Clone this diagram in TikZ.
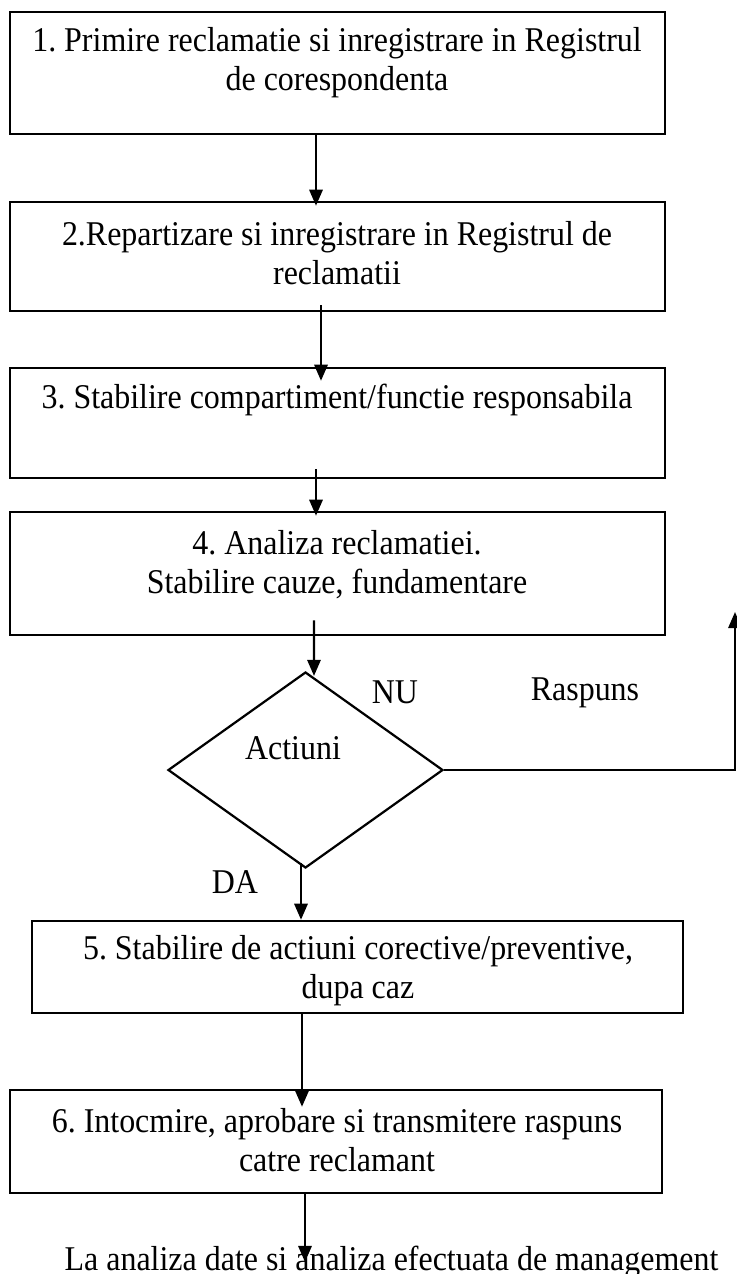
\documentclass[tikz,border=0pt]{standalone}
\usepackage{fontspec}
\setmainfont{Liberation Serif}[FakeStretch=0.92]
\usetikzlibrary{arrows.meta,shapes.geometric}
\frenchspacing

\begin{document}
\begin{tikzpicture}[
		x=0.36pt, y=-0.36pt,
		box/.style={draw, line width=0.9pt, inner sep=0pt},
		cond/.style={draw, diamond, line width=0.8pt, inner sep=0pt},
		txt/.style={align=center, inner sep=0pt, font=\fontsize{12.5}{14}\selectfont},
		flow/.style={line width=0.8pt, -{Triangle[width=4.8pt,length=5.8pt]}}
		]
		\useasboundingbox (0,0) rectangle (737,1274);
		
		% Draw boxes
		\node[box, minimum width=655*0.36pt, minimum height=122*0.36pt] (b1) at (337.5,73) {};
		\node[box, minimum width=655*0.36pt, minimum height=109*0.36pt] (b2) at (337.5,256.5) {};
		\node[box, minimum width=655*0.36pt, minimum height=110*0.36pt] (b3) at (337.5,423) {};
		\node[box, minimum width=655*0.36pt, minimum height=123*0.36pt] (b4) at (337.5,573.5) {};
		\node[cond, minimum width=275*0.36pt, minimum height=196*0.36pt] (d) at (305.5,770) {};
		\node[box, minimum width=651*0.36pt, minimum height=92*0.36pt] (b5) at (357.5,967) {};
		\node[box, minimum width=652*0.36pt, minimum height=103*0.36pt] (b6) at (336,1141.5) {};
		
		% Box texts
		\node[txt] (t1) at (337,63) {1. Primire reclamatie si inregistrare in Registrul\\de corespondenta};
		\node[txt] (t2) at (337,253) {2.Repartizare si inregistrare in Registrul de\\reclamatii};
		\node[txt] (t3) at (337,400) {3. Stabilire compartiment/functie responsabila};
		\node[txt] (t4) at (337,565) {4. Analiza reclamatiei.\\Stabilire cauze, fundamentare};
		\node[txt] (t5) at (358,971) {5. Stabilire de actiuni corective/preventive,\\dupa caz};
		\node[txt] (t6) at (337,1140) {6. Intocmire, aprobare si transmitere raspuns\\catre reclamant};
		\node[txt] (q) at (293,748) {Actiuni};
		\node[txt, anchor=base] (fin) at (391.5,1270) {La analiza date si analiza efectuata de management};
		
		% Branch labels
		\node[txt] (nu) at (395,692) {NU};
		\node[txt] (rasp) at (585,693) {Raspuns};
		\node[txt] (da) at (235,882) {DA};
		
		% Draw arrows
		\draw[flow] ([xshift=-21.5*0.36pt]b1.south) -- ([xshift=-21.5*0.36pt, yshift=-5*0.36pt]b2.north);
		\draw[flow] ([xshift=-16.5*0.36pt, yshift=7*0.36pt]b2.south) -- ([xshift=-16.5*0.36pt, yshift=-14*0.36pt]b3.north);
		\draw[flow] ([xshift=-21.5*0.36pt, yshift=10*0.36pt]b3.south) -- ([xshift=-21.5*0.36pt, yshift=-5*0.36pt]b4.north);
		\draw[flow] ([xshift=-23.5*0.36pt, yshift=16*0.36pt]b4.south) -- ([xshift=8.5*0.36pt, yshift=-5*0.36pt]d.north);
		\draw[flow] ([xshift=-4.5*0.36pt, yshift=6*0.36pt]d.south) -- ([xshift=-56.5*0.36pt]b5.north);
		\draw[flow] ([xshift=-55.5*0.36pt]b5.south) -- ([xshift=-34*0.36pt, yshift=-18*0.36pt]b6.north);
		\coordinate (end) at (305,1262);
		\draw[flow] ([xshift=-31*0.36pt]b6.south) -- (end);
		
		% Return line on the right
		\coordinate (ret) at (735,612);
		\draw[flow] (d.east) -- (d.east -| ret) -- (ret);
		
	\end{tikzpicture}
\end{document}
